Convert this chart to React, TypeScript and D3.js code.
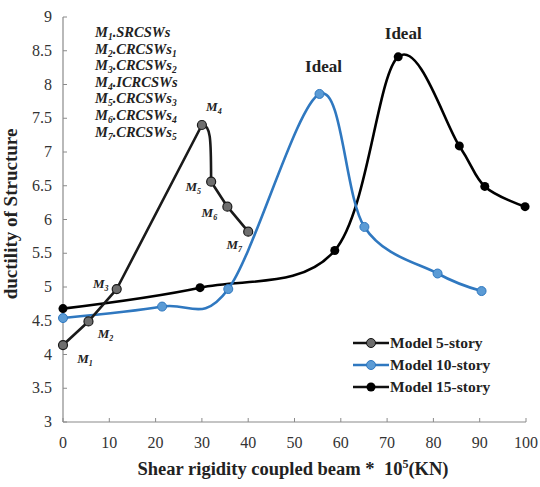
import React from "react";
import * as d3 from "d3";

// Shear rigidity of the coupling beam (x 10^5 KN) and structural ductility
const story5X = [0, 5.5, 11.6, 30, 32, 35.5, 40];
const story5Y = [4.14, 4.49, 4.97, 7.4, 6.56, 6.19, 5.82];
const story5Labels = ["M1", "M2", "M3", "M4", "M5", "M6", "M7"];

const story10X = [0, 21.4, 35.7, 55.4, 65.1, 80.9, 90.4];
const story10Y = [4.54, 4.71, 4.97, 7.86, 5.89, 5.2, 4.94];

const story15X = [0, 29.6, 58.7, 72.4, 85.6, 91.1, 99.8];
const story15Y = [4.68, 4.99, 5.54, 8.41, 7.09, 6.49, 6.19];

const xTicks = [0, 10, 20, 30, 40, 50, 60, 70, 80, 90, 100];
const yTicks = [3, 3.5, 4, 4.5, 5, 5.5, 6, 6.5, 7, 7.5, 8, 8.5, 9];

const modelNames = [
  ["1", "SRCSWs", ""],
  ["2", "CRCSWs", "1"],
  ["3", "CRCSWs", "2"],
  ["4", "ICRCSWs", ""],
  ["5", "CRCSWs", "3"],
  ["6", "CRCSWs", "4"],
  ["7", "CRCSWs", "5"],
];

const legendNames = ["Model 5-story", "Model 10-story", "Model 15-story"];

const serif = { fontFamily: '"Liberation Serif"' };

export default function App() {
  const width = 540;
  const height = 487;
  const x = d3.scaleLinear().domain([0, 100]).range([63, 526]);
  const y = d3.scaleLinear().domain([3, 9]).range([422, 17]);

  const pts = (xs: number[], ys: number[]) => xs.map((v, i) => [v, ys[i]] as [number, number]);

  const smooth = d3
    .line<[number, number]>()
    .x((d) => x(d[0]))
    .y((d) => y(d[1]))
    .curve(d3.curveCardinal.tension(0));

  const s5 = pts(story5X, story5Y);
  const s10 = pts(story10X, story10Y);
  const s15 = pts(story15X, story15Y);

  // 5-story: straight rise to M4, rounded shoulder down to M5, straight after
  const p5 = d3.path();
  const px = s5.map((d) => x(d[0]));
  const py = s5.map((d) => y(d[1]));
  p5.moveTo(px[0], py[0]);
  for (let i = 1; i <= 3; i++) p5.lineTo(px[i], py[i]);
  p5.bezierCurveTo(
    px[3] + (px[4] - px[3]) * 1.1,
    py[3] - 1,
    px[4] - 0.5,
    py[3] + (py[4] - py[3]) * 0.4,
    px[4],
    py[4]
  );
  for (let i = 5; i < px.length; i++) p5.lineTo(px[i], py[i]);

  const blueLine = "#2f78c0";
  const blueDot = "#5b9bd5";

  // offsets for the M-labels near each 5-story point
  const labelOffsets: [number, number][] = [
    [22, 18],
    [17, 17],
    [-16, -1],
    [12, -14],
    [-18, 9],
    [-18, 10],
    [-14, 17],
  ];

  const mLabel = (name: string, key: string | number, lx: number, ly: number) => (
    <text
      key={key}
      x={lx}
      y={ly}
      textAnchor="middle"
      style={serif}
      fontStyle="italic"
      fontWeight="bold"
      fontSize={13}
      fill="#222"
    >
      M<tspan fontSize={8} dy={3}>{name.slice(1)}</tspan>
    </text>
  );

  return (
    <svg
      width={width}
      height={height}
      style={{ position: "absolute", left: 0, top: 0, background: "#fff" }}
    >
      {/* axes */}
      <line x1={x(0)} x2={x(0)} y1={y(9)} y2={y(3)} stroke="#8a8a8a" strokeWidth={1.2} />
      <line x1={x(0)} x2={x(100)} y1={y(3)} y2={y(3)} stroke="#8a8a8a" strokeWidth={1.2} />
      {yTicks.map((t) => (
        <g key={"y" + t}>
          <line x1={x(0)} x2={x(0) + 4} y1={y(t)} y2={y(t)} stroke="#8a8a8a" />
          <text x={52} y={y(t) + 5} textAnchor="end" style={serif} fontSize={16} fill="#333">
            {t}
          </text>
        </g>
      ))}
      {xTicks.map((t) => (
        <g key={"x" + t}>
          <line x1={x(t)} x2={x(t)} y1={y(3)} y2={y(3) - 4} stroke="#8a8a8a" />
          <text x={x(t)} y={448} textAnchor="middle" style={serif} fontSize={16} fill="#333">
            {t}
          </text>
        </g>
      ))}

      {/* axis titles */}
      <text
        transform="translate(17,214) rotate(-90)"
        textAnchor="middle"
        style={serif}
        fontWeight="bold"
        fontSize={19}
        fill="#222"
      >
        ductility of Structure
      </text>
      <text x={293} y={475} textAnchor="middle" style={serif} fontWeight="bold" fontSize={18.5} fill="#222">
        Shear rigidity coupled beam *{"\u00a0\u00a0"}10
        <tspan fontSize={12} dy={-7}>5</tspan>
        <tspan dy={7}>(KN)</tspan>
      </text>

      {/* series lines */}
      <path d={smooth(s15) || ""} fill="none" stroke="#000" strokeWidth={2.6} />
      <path d={smooth(s10) || ""} fill="none" stroke={blueLine} strokeWidth={2.6} />
      <path d={p5.toString()} fill="none" stroke="#1a1a1a" strokeWidth={2.6} strokeLinejoin="round" />

      {/* markers */}
      {s15.map((d, i) => (
        <circle key={"c15" + i} cx={x(d[0])} cy={y(d[1])} r={4.5} fill="#000" />
      ))}
      {s10.map((d, i) => (
        <circle key={"c10" + i} cx={x(d[0])} cy={y(d[1])} r={4.5} fill={blueDot} stroke={blueLine} strokeWidth={1} />
      ))}
      {s5.map((d, i) => (
        <circle key={"c5" + i} cx={x(d[0])} cy={y(d[1])} r={4.5} fill="#6e6e6e" stroke="#1a1a1a" strokeWidth={1.2} />
      ))}

      {/* point labels */}
      {s5.map((d, i) =>
        mLabel(story5Labels[i], "m" + i, x(d[0]) + labelOffsets[i][0], y(d[1]) + labelOffsets[i][1])
      )}

      {/* Ideal annotations */}
      <text x={x(story10X[3]) + 4} y={72} textAnchor="middle" style={serif} fontWeight="bold" fontSize={17} fill="#222">
        Ideal
      </text>
      <text x={x(story15X[3]) + 5} y={39} textAnchor="middle" style={serif} fontWeight="bold" fontSize={17} fill="#222">
        Ideal
      </text>

      {/* model name list */}
      {modelNames.map((m, i) => (
        <text
          key={"n" + i}
          x={95}
          y={37 + i * 16.6}
          style={serif}
          fontStyle="italic"
          fontWeight="bold"
          fontSize={14.5}
          fill="#222"
        >
          M<tspan fontSize={9.5} dy={3}>{m[0]}</tspan>
          <tspan dy={-3}>.{m[1]}</tspan>
          {m[2] ? <tspan fontSize={9.5} dy={3}>{m[2]}</tspan> : null}
        </text>
      ))}

      {/* legend */}
      {legendNames.map((name, i) => {
        const ly = 343 + i * 22;
        const stroke = i === 1 ? blueLine : "#111";
        const fill = i === 0 ? "#6e6e6e" : i === 1 ? blueDot : "#000";
        return (
          <g key={"l" + i}>
            <line x1={353} x2={389} y1={ly} y2={ly} stroke={stroke} strokeWidth={2.6} />
            <circle cx={371} cy={ly} r={4.5} fill={fill} stroke={i === 2 ? "none" : stroke} strokeWidth={1} />
            <text x={390} y={ly + 5} style={serif} fontWeight="bold" fontSize={15.5} fill="#222">
              {name}
            </text>
          </g>
        );
      })}
    </svg>
  );
}
